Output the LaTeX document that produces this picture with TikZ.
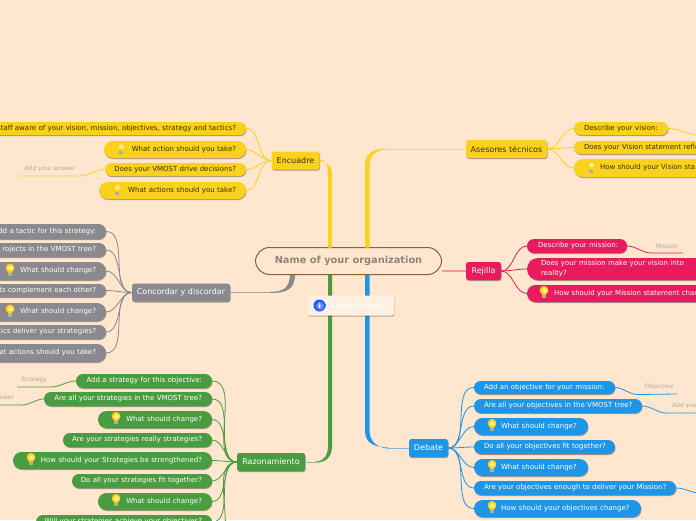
\documentclass[tikz,border=0pt]{standalone}
\usepackage{fontspec}
\setmainfont{DejaVu Sans}
\usetikzlibrary{shadows,calc}
\definecolor{bgc}{HTML}{FEE6CF}
\definecolor{yc}{HTML}{FAD11C}
\definecolor{gc}{HTML}{4A9C40}
\definecolor{bc}{HTML}{1D96E8}
\definecolor{pc}{HTML}{E81B5E}
\definecolor{kc}{HTML}{8A8A8E}
\definecolor{ytx}{HTML}{3A3000}
\definecolor{lbl}{HTML}{B3A99E}
\definecolor{ctx}{HTML}{8F8478}
\tikzset{
  x=1pt,y=-1pt,
  boxbase/.style={inner xsep=10pt,inner ysep=0pt,drop shadow={shadow xshift=.5pt,shadow yshift=-1pt,fill=black,opacity=.35}},
  ypill/.style={boxbase,fill=yc,text=ytx},
  gpill/.style={boxbase,fill=gc,text=white},
  bpill/.style={boxbase,fill=bc,text=white},
  rpill/.style={boxbase,fill=pc,text=white},
  kpill/.style={boxbase,fill=kc,text=white},
  ls/.style={align=right,/utils/exec={\gdef\pbx{r}}},
  rs/.style={align=left,/utils/exec={\gdef\pbx{l}}},
  topic/.style={rounded corners=2.5pt,minimum height=18pt,inner sep=0pt,font=\fontsize{8}{10}\selectfont,drop shadow={shadow xshift=.5pt,shadow yshift=-1pt,fill=black,opacity=.35}},
  answer/.style={text=lbl,font=\fontsize{6}{7}\selectfont,inner sep=0pt},
  thinl/.style={line width=.8pt},
  lnk/.style={thinl,out=180,in=0,looseness=.9},
  rnk/.style={thinl,out=0,in=180,looseness=.9},
  bulbglass/.pic={
    \shade[inner color=yellow!25!white,outer color=orange!45!yellow] (0,-3.2) circle (4.4);
    \fill[orange!35!yellow] (-2.4,-.6) -- (2.4,-.6) -- (1.5,1.8) -- (-1.5,1.8) -- cycle;
    \fill[gray!65] (-1.6,1.8) rectangle (1.6,4.6);
  }
}
\newcommand\pillraw[7]{%
  \pgfmathsetmacro\pilw{#4-#3-20}%
  \pgfmathsetmacro\pilh{#6-#5}%
  \pgfmathsetmacro\pilr{\pilh/2-.01}%
  \node[#2,rounded corners=\pilr pt,text width=\pilw pt,minimum height=\pilh pt,
        font=\fontsize{7}{10}\selectfont] (#1) at ({(#3+#4)/2},{(#5+#6)/2}) {#7};}
\newcommand\pill[7]{\pillraw{#1}{#2}{#3}{#4}{#5}{#6}{\makebox[\hsize][\pbx]{#7}}}
\newcommand\bulbat[2]{\pic at (#1,#2) {bulbglass};}
\begin{document}
\begin{tikzpicture}
\useasboundingbox (0,0) rectangle (696,520);
\clip (0,0) rectangle (696,520);
\fill[bgc] (0,0) rectangle (696,520);

% ---------- central and topics
\node[draw=brown!75!black,line width=1pt,rounded corners=14pt,minimum width=186pt,minimum height=27pt,inner sep=0pt,
      fill=bgc,text=ctx,font=\fontsize{9.8}{11}\selectfont\bfseries] (c) at (348.5,261) {Name of your organization};
\node[topic,fill=yc,text=ytx,minimum width=48pt] (enc) at (295.5,160.5) {Encuadre};
\node[topic,fill=yc,text=ytx,minimum width=81pt] (ase) at (506.5,149) {Asesores técnicos};
\node[topic,fill=pc,text=white,minimum width=35pt] (rej) at (483.5,271) {Rejilla};
\node[topic,fill=kc,text=white,minimum width=98pt] (con) at (181,292.5) {Concordar y discordar};
\node[topic,fill=gc,text=white,minimum width=68pt] (raz) at (271,462) {Razonamiento};
\node[topic,fill=bc,text=white,minimum width=39pt] (deb) at (428.5,448) {Debate};

% ---------- Encuadre
\pill{e1}{ypill,ls}{-40}{246}{122}{135}{staff aware of your vision, mission, objectives, strategy and tactics?}
\pill{e2}{ypill,ls}{104}{246}{141}{158}{What action should you take?}
\pill{e3}{ypill,ls}{105}{246}{163}{176}{Does your VMOST drive decisions?}
\pill{e4}{ypill,ls}{99}{246}{182}{199}{What actions should you take?}
\node[answer] (ea) at (50,169) {Add your answer};
\coordinate (eaend) at (20,176);

% ---------- Concordar
\pill{k1}{kpill,ls}{-40}{106}{224}{239}{dd a tactic for this strategy:}
\pill{k2}{kpill,ls}{-40}{106}{243}{257}{rojects in the VMOST tree?}
\pill{k3}{kpill,ls}{-40}{106}{262}{280}{What should change?}
\pill{k4}{kpill,ls}{-40}{106}{284}{297}{ts complement each other?}
\pill{k5}{kpill,ls}{-40}{106}{303}{321}{What should change?}
\pill{k6}{kpill,ls}{-40}{106}{325}{339}{tics deliver your strategies?}
\pill{k7}{kpill,ls}{-40}{106}{344}{362}{at actions should you take?}

% ---------- Razonamiento
\pill{g1}{gpill,ls}{76}{212}{374}{388}{Add a strategy for this objective:}
\pill{g2}{gpill,ls}{44}{212}{392}{406}{Are all your strategies in the VMOST tree?}
\pill{g3}{gpill,ls}{98}{212}{411}{428}{What should change?}
\pill{g4}{gpill,ls}{63}{212}{433}{447}{Are your strategies really strategies?}
\pill{g5}{gpill,ls}{13}{212}{452}{469}{How should your Strategies be strengthened?}
\pill{g6}{gpill,ls}{72}{212}{474}{488}{Do all your strategies fit together?}
\pill{g7}{gpill,ls}{98}{212}{493}{510}{What should change?}
\pill{g8}{gpill,ls}{36}{212}{515}{529}{Will your strategies achieve your objectives?}
\coordinate (g9) at (212,548);
\node[answer] (ga) at (34,380) {Strategy};
\coordinate (gaend) at (17,387);
\node[answer] (gb) at (7,398) {swer};
\coordinate (gbend) at (-2,405);

% ---------- Asesores
\pill{a1}{ypill,rs}{574}{668}{122}{135}{Describe your vision:}
\pill{a2}{ypill,rs}{574}{760}{141}{154}{Does your Vision statement refle}
\pill{a3}{ypill,rs}{574}{760}{159}{177}{\hspace*{16pt}How should your Vision sta}
\coordinate (a1end) at (700,135);

% ---------- Rejilla
\pill{r1}{rpill,rs}{527}{627}{239}{253}{\hspace*{1pt}Describe your mission:}
\pillraw{r2}{rpill,rs}{527}{760}{258}{280}{\hspace*{4pt}Does your mission make your vision into\\\hspace*{4pt}reality?}
\pill{r3}{rpill,rs}{527}{760}{285}{302}{\hspace*{17pt}How should your Mission statement char}
\node[answer] (ra) at (667,246) {Mission};
\coordinate (raend) at (683,253);

% ---------- Debate
\pill{b1}{bpill,rs}{474}{615}{381}{394}{Add an objective for your mission:}
\pill{b2}{bpill,rs}{474}{642}{399}{413}{Are all your objectives in the VMOST tree?}
\pill{b3}{bpill,rs}{474}{588}{418}{435}{\hspace*{17pt}What should change?}
\pill{b4}{bpill,rs}{474}{615}{440}{454}{Do all your objectives fit together?}
\pill{b5}{bpill,rs}{474}{588}{459}{476}{\hspace*{17pt}What should change?}
\pill{b6}{bpill,rs}{474}{676}{481}{495}{Are your objectives enough to deliver your Mission?}
\pill{b7}{bpill,rs}{474}{641}{500}{517}{\hspace*{17pt}How should your objectives change?}
\node[answer] (ba) at (659,387) {Objective};
\coordinate (baend) at (677,394);
\node[answer,anchor=west] (bb) at (672,406) {Add your};
\coordinate (bbend) at (700,413);
\coordinate (bcend) at (700,493);

% ---------- child connectors
\foreach \p in {e1,e2,e3,e4} \draw[lnk,yc] (enc.west) to (\p.east);
\draw[rnk,yc] (eaend) -- ++(60,0) to (e3.west);
\foreach \p in {k1,k2,k3,k4,k5,k6,k7} \draw[lnk,kc] (con.west) to (\p.east);
\foreach \p in {g1,g2,g3,g4,g5,g6,g7,g8} \draw[lnk,gc] (raz.west) to (\p.east);
\draw[lnk,gc] (raz.west) to (g9);
\draw[rnk,gc] (gaend) -- ++(34,0) to (g1.west);
\draw[rnk,gc] (gbend) -- ++(24,0) to (g2.west);
\foreach \p in {a1,a2,a3} \draw[rnk,yc] (ase.east) to (\p.west);
\draw[rnk,yc] (a1.east) to (a1end);
\foreach \p in {r1,r2,r3} \draw[rnk,pc] (rej.east) to (\p.west);
\draw[rnk,pc] (r1.east) to ++(24,7) -- (raend);
\foreach \p in {b1,b2,b3,b4,b5,b6,b7} \draw[rnk,bc] (deb.east) to (\p.west);
\draw[rnk,bc] (b1.east) to ++(22,7) -- (baend);
\draw[rnk,bc] (b2.east) to ++(24,7) -- (bbend);
\draw[rnk,bc] (b6.east) to (bcend);

% ---------- trunks (tapered, thin part paler)
\fill[yc] ([yshift=.6pt]enc.east) .. controls +(7,0) and (328,165) .. (328,176) -- (328,247.5) -- (332.2,247.5) -- (332.2,176) .. controls (332.2,165) and (326,161.3) .. ([yshift=-.6pt]enc.east) -- cycle;
\draw[yc!55!bgc,line width=.9pt] (ase.west) -- (385,149);
\fill[yc] (385,148.5) .. controls (372,149) and (365,155) .. (365,165) -- (365,247.5) -- (369.5,247.5) -- (369.5,165) .. controls (369.5,156) and (376,150) .. (385,149.5) -- cycle;
\draw[gc!55!bgc,line width=.9pt] (raz.east) -- (316,462);
\fill[gc] (316,461.5) .. controls (324,461) and (328,456) .. (328,445) -- (328,275) -- (332.2,275) -- (332.2,445) .. controls (332.2,458) and (325,462.5) .. (316,462.5) -- cycle;
\draw[bc!55!bgc,line width=.9pt] (deb.west) -- (388,448);
\fill[bc] (388,447.5) .. controls (372,447) and (365,442) .. (365,430) -- (365,275) -- (369.5,275) -- (369.5,430) .. controls (369.5,441) and (376,447.6) .. (388,448.5) -- cycle;
\draw[kc!70!bgc,line width=.9pt] (con.east) -- (270,292.5);
\fill[kc] (270,292) .. controls (284,291.5) and (289,288) .. (290,275) -- (295,275) .. controls (294.5,290) and (286,293) .. (270,293) -- cycle;
\draw[pc!40!bgc,line width=1.4pt] (c.east |- rej.west) -- (rej.west);

% ---------- bulbs
\bulbat{121}{149.5}\bulbat{117}{190.5}
\bulbat{10}{271}\bulbat{10}{312}
\bulbat{116}{419.5}\bulbat{31}{460.5}\bulbat{116}{501.5}
\bulbat{591}{168}
\bulbat{544}{293.5}
\bulbat{492}{426.5}\bulbat{492}{467.5}\bulbat{492}{508.5}

% ---------- note
\node[rounded corners=2pt,fill=bgc!60!white,text=white,minimum width=86pt,minimum height=20pt,inner sep=0pt,
      font=\fontsize{7.2}{9}\selectfont,drop shadow={shadow xshift=.4pt,shadow yshift=-1pt,fill=black,opacity=.3}] (note) at (351,305.5) {\hspace*{14pt}Where to next?};
\shade[inner color=blue!30!white,outer color=blue!70!cyan] (319.5,305.5) circle (6);
\node[text=white,font=\fontsize{7}{8}\selectfont\bfseries,inner sep=0pt] (noteicon) at (319.5,305.5) {i};
\end{tikzpicture}
\end{document}
